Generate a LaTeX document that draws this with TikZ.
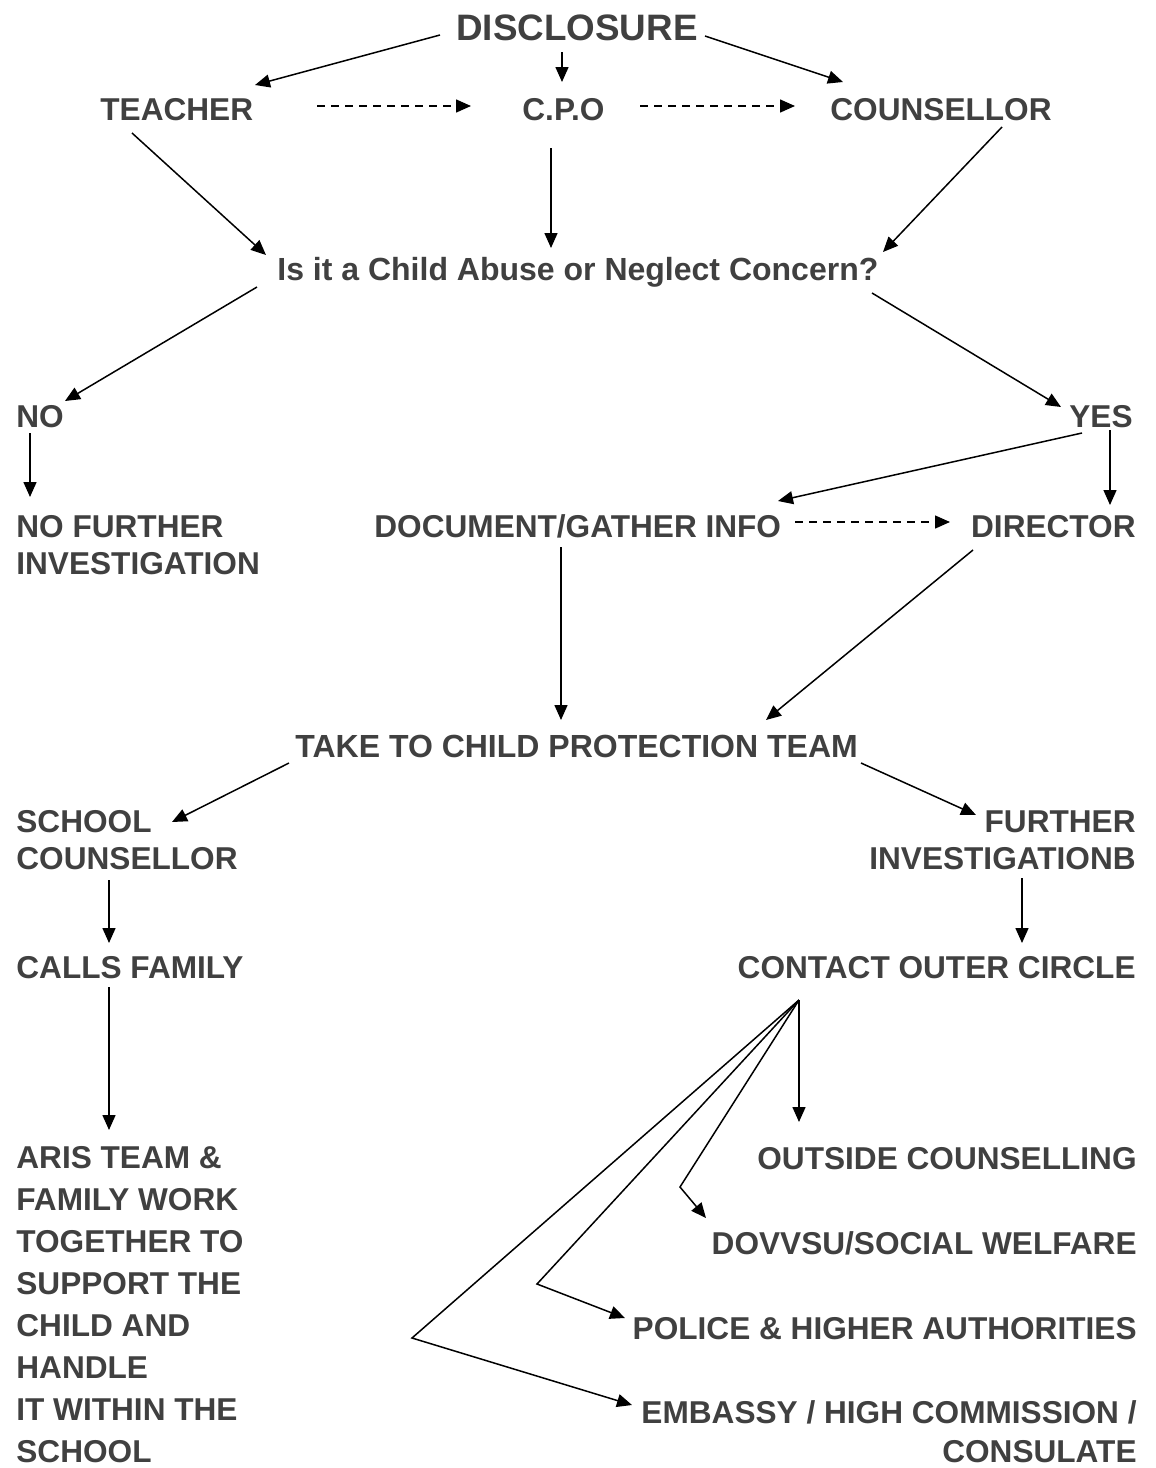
\documentclass[tikz,border=0pt]{standalone}
\usepackage{fontspec}
\setmainfont{Liberation Sans}
\usetikzlibrary{arrows.meta}
\definecolor{txtgray}{RGB}{64,64,64}

\begin{document}
\begin{tikzpicture}[x=0.5pt,y=-0.5pt,
  lbl/.style={inner sep=0pt,text=txtgray,font=\fontsize{15.8}{18.5}\selectfont\bfseries},
  tall/.style={font=\fontsize{15.8}{20.93}\selectfont\bfseries},
  link/.style={line width=0.75pt,-{Triangle[length=7.5pt,width=6.5pt]}},
  maybe/.style={link,dash pattern=on 4pt off 3pt}]
\useasboundingbox (0,0) rectangle (1156,1468);

% top row
\node[lbl,anchor=base west,font=\fontsize{18.4}{22}\selectfont\bfseries] (disc) at (456,40) {DISCLOSURE};
\node[lbl,anchor=base west] (teacher) at (100,120) {TEACHER};
\node[lbl,anchor=base west] (cpo) at (522,120) {C.P.O};
\node[lbl,anchor=base west] (couns) at (830,120) {COUNSELLOR};
\node[lbl,anchor=base west,font=\fontsize{16}{19}\selectfont\bfseries] (concern) at (277,280) {Is it a Child Abuse or Neglect Concern?};

% no / yes
\node[lbl,anchor=base west] (no) at (16,427) {NO};
\node[lbl,anchor=base east] (yes) at (1133,427) {YES};
\node[lbl,anchor=base west,align=left] (nofurther) at (16,574) {NO FURTHER\\INVESTIGATION};
\node[lbl,anchor=base west] (gather) at (374,537) {DOCUMENT/GATHER INFO};
\node[lbl,anchor=base east] (director) at (1136,537) {DIRECTOR};

% team
\node[lbl,anchor=base west,font=\fontsize{16}{19}\selectfont\bfseries] (team) at (295,757) {TAKE TO CHILD PROTECTION TEAM};
\node[lbl,anchor=base west,align=left] (school) at (16,869) {SCHOOL\\COUNSELLOR};
\node[lbl,anchor=base east,align=right] (further) at (1136,869) {FURTHER\\INVESTIGATIONB};
\node[lbl,anchor=base west] (calls) at (16,978) {CALLS FAMILY};
\node[lbl,anchor=base east] (contact) at (1136,978) {CONTACT OUTER CIRCLE};

% bottom
\node[lbl,tall,anchor=base west,align=left] (aris) at (16,1462)
  {ARIS TEAM \&\\FAMILY WORK\\TOGETHER TO\\SUPPORT THE\\CHILD AND\\HANDLE\\IT WITHIN THE\\SCHOOL};
\node[lbl,anchor=base east] (outside) at (1137,1169) {OUTSIDE COUNSELLING};
\node[lbl,anchor=base east] (dovvsu) at (1137,1254) {DOVVSU/SOCIAL WELFARE};
\node[lbl,anchor=base east] (police) at (1137,1339) {POLICE \& HIGHER AUTHORITIES};
\node[lbl,anchor=base east,align=right,font=\fontsize{15.8}{19.5}\selectfont\bfseries] (embassy) at (1137,1462) {EMBASSY / HIGH COMMISSION /\\CONSULATE};

\coordinate (hub) at ([shift={(-337,22)}]contact.base east);
\coordinate (bendd) at (680,1187);
\coordinate (bendp) at (537,1284);
\coordinate (bende) at (412,1338);

% arrows
\draw[link] ([shift={(-16,-5)}]disc.base west) -- ([shift={(155,-35)}]teacher.base west);
\draw[link] ([shift={(106,12)}]disc.base west) -- ([shift={(40,-38)}]cpo.base west);
\draw[link] ([shift={(249,-4)}]disc.base west) -- ([shift={(13,-38)}]couns.base west);
\draw[maybe] ([shift={(217,-14)}]teacher.base west) -- ([shift={(-51,-14)}]cpo.base west);
\draw[maybe] ([shift={(118,-14)}]cpo.base west) -- ([shift={(-35,-14)}]couns.base west);
\draw[link] ([shift={(32,13)}]teacher.base west) -- ([shift={(-11,-25)}]concern.base west);
\draw[link] ([shift={(29,28)}]cpo.base west) -- ([shift={(274,-32)}]concern.base west);
\draw[link] ([shift={(172,7)}]couns.base west) -- ([shift={(606,-28)}]concern.base west);
\draw[link] ([shift={(-20,7)}]concern.base west) -- ([shift={(49,-26)}]no.base west);
\draw[link] ([shift={(595,13)}]concern.base west) -- ([shift={(-72,-20)}]yes.base east);
\draw[link] ([shift={(14,6)}]no.base west) -- ([shift={(14,-77)}]nofurther.base west);
\draw[link] ([shift={(-51,6)}]yes.base east) -- ([shift={(404,-36)}]gather.base west);
\draw[link] ([shift={(-23,3)}]yes.base east) -- ([shift={(-26,-32)}]director.base east);
\draw[maybe] ([shift={(421,-15)}]gather.base west) -- ([shift={(-186,-15)}]director.base east);
\draw[link] ([shift={(187,10)}]gather.base west) -- ([shift={(266,-37)}]team.base west);
\draw[link] ([shift={(-163,13)}]director.base east) -- ([shift={(471,-37)}]team.base west);
\draw[link] ([shift={(-6,6)}]team.base west) -- ([shift={(156,-47)}]school.base west);
\draw[link] ([shift={(566,6)}]team.base west) -- ([shift={(-160,-54)}]further.base east);
\draw[link] ([shift={(93,11)}]school.base west) -- ([shift={(93,-35)}]calls.base west);
\draw[link] ([shift={(-114,9)}]further.base east) -- ([shift={(-114,-35)}]contact.base east);
\draw[link] ([shift={(93,9)}]calls.base west) -- ([shift={(93,-332)}]aris.base west);
\draw[link] (hub) -- ([shift={(-338,-47)}]outside.base east);
\draw[link] (hub) -- (bendd) -- ([shift={(-431,-36)}]dovvsu.base east);
\draw[link] (hub) -- (bendp) -- ([shift={(-512,-21)}]police.base east);
\draw[link] (hub) -- (bende) -- ([shift={(-505,-57)}]embassy.base east);
\end{tikzpicture}
\end{document}
